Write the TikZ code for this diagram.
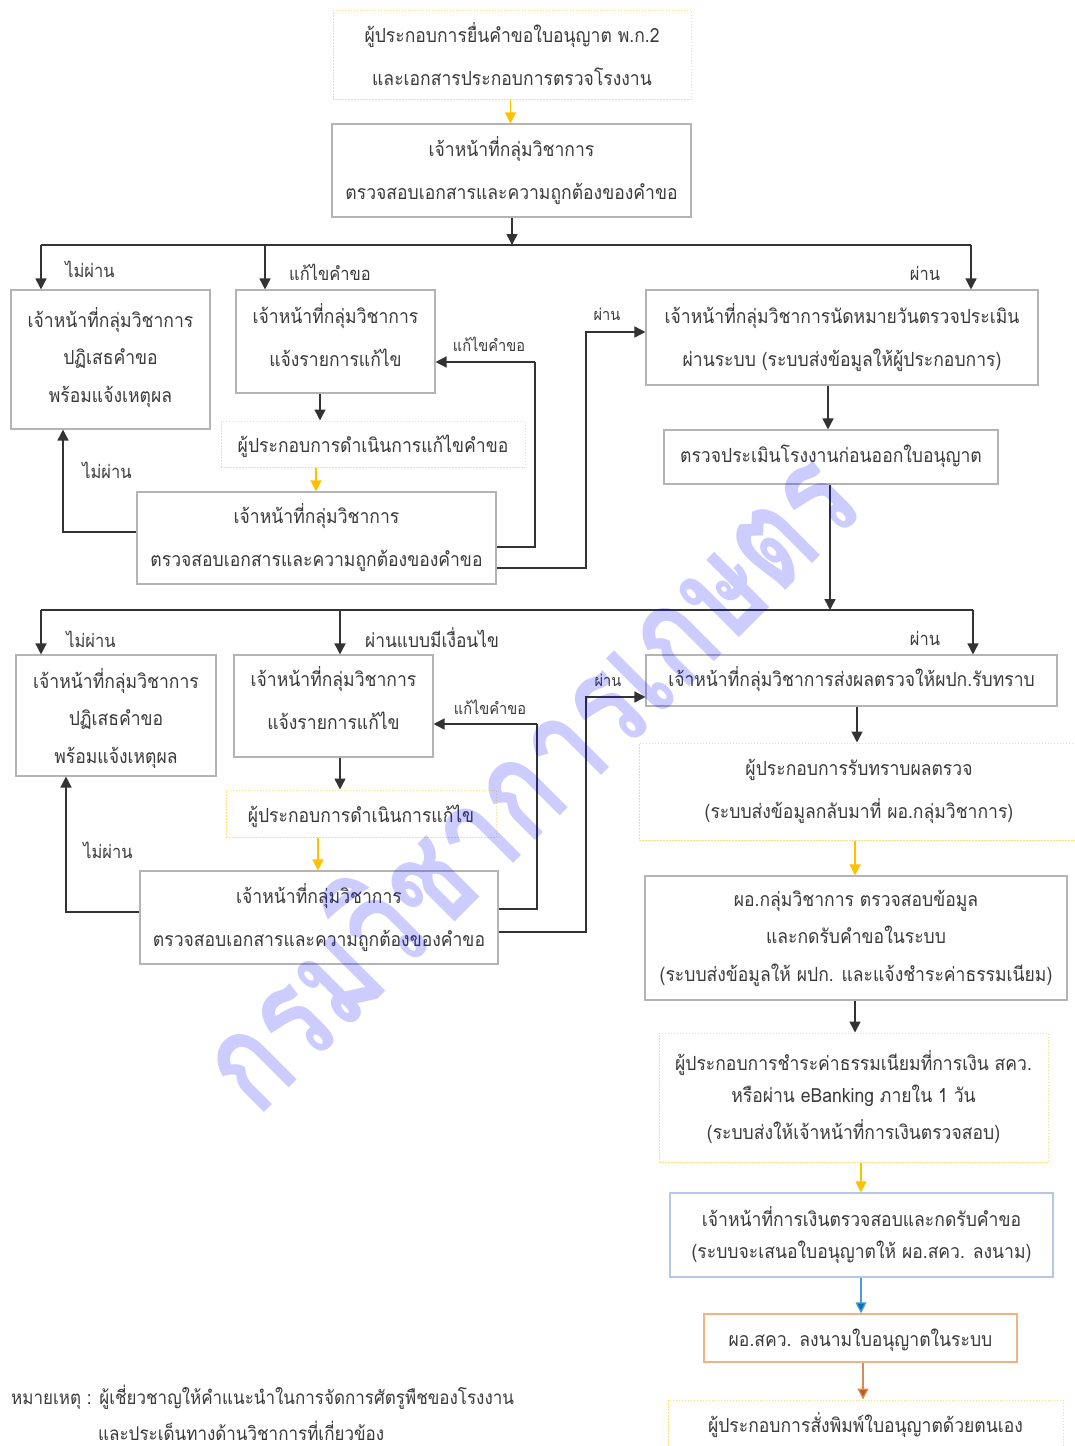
\documentclass[tikz,border=0pt]{standalone}
\usepackage{fontspec}
\usetikzlibrary{arrows.meta,calc}
\newfontfamily\thai[Script=Thai,FakeStretch=0.9]{Loma}
\newfontfamily\wmfont[Script=Thai]{Loma}
\definecolor{boxgray}{HTML}{B4B4B4}
\definecolor{dotyellow}{HTML}{FFDD77}
\definecolor{arrowyellow}{HTML}{FFC000}
\definecolor{boxblue}{HTML}{B4C7E7}
\definecolor{arrowblue}{HTML}{0070C0}
\definecolor{boxorange}{HTML}{F4B183}
\definecolor{arroworange}{HTML}{C55A11}
\definecolor{inkgray}{HTML}{3A3A3A}
\definecolor{linegray}{HTML}{333333}
\tikzset{
  x=1pt,y=-1pt,
  every node/.style={inner sep=0pt,text=inkgray,align=center},
  bt/.style={font={\thai\fontsize{19.5}{43}\selectfont}},
  bm/.style={font={\thai\fontsize{19.5}{37.5}\selectfont}},
  bs/.style={font={\thai\fontsize{19.5}{32}\selectfont}},
  box/.style={draw=boxgray,line width=1.1pt,bt},
  yel/.style={draw=dotyellow,line width=1pt,dash pattern=on 1.5pt off 1.5pt,bt},
  blu/.style={draw=boxblue,line width=1.3pt,bs},
  org/.style={draw=boxorange,line width=1.3pt,bt},
  lab/.style={font={\thai\fontsize{18.3}{22}\selectfont}},
  labw/.style={font={\thai\fontsize{19.3}{22}\selectfont}},
  labs/.style={font={\thai\fontsize{16.2}{20}\selectfont}},
  note/.style={font={\thai\fontsize{18.9}{22}\selectfont},anchor=west},
  flow/.style={draw=linegray,line width=1.5pt,-{Triangle[width=11pt,length=11pt]}},
  ln/.style={draw=linegray,line width=1.5pt},
  flowy/.style={draw=arrowyellow,line width=1.3pt,-{Triangle[width=11pt,length=11pt]}},
  flowb/.style={draw=arrowblue!70!white,line width=1.3pt,-{Triangle[width=11pt,length=11pt,fill=arrowblue]}},
  flowo/.style={draw=arroworange!70!white,line width=1.3pt,-{Triangle[width=11pt,length=11pt,fill=arroworange]}},
  wmark/.style={font={\wmfont\bfseries\fontsize{140}{150}\selectfont},text=blue,opacity=.2,text opacity=.2,rotate=45,xscale=.76}
}
\begin{document}
\begin{tikzpicture}
\useasboundingbox (0,0) rectangle (1075,1446);
\clip (0,0) rectangle (1075,1446);
% boxes
\node[yel,minimum width=358pt,minimum height=89pt] (n1) at (512,54.5) {ผู้ประกอบการยื่นคำขอใบอนุญาต พ.ก.2\\และเอกสารประกอบการตรวจโรงงาน};
\node[box,minimum width=359pt,minimum height=93pt] (n2) at (511.5,170.5) {เจ้าหน้าที่กลุ่มวิชาการ\\ตรวจสอบเอกสารและความถูกต้องของคำขอ};
\node[box,bm,text depth=10pt,minimum width=199pt,minimum height=139pt] (n3) at (110.5,359.5) {เจ้าหน้าที่กลุ่มวิชาการ\\ปฏิเสธคำขอ\\พร้อมแจ้งเหตุผล};
\node[box,text depth=14pt,minimum width=199pt,minimum height=103pt] (n4) at (335.5,341.5) {เจ้าหน้าที่กลุ่มวิชาการ\\แจ้งรายการแก้ไข};
\node[yel,text height=26pt,text depth=10pt,minimum width=304pt,minimum height=46pt] (n5) at (373,444) {ผู้ประกอบการดำเนินการแก้ไขคำขอ};
\node[box,minimum width=359pt,minimum height=92pt] (n6) at (316.5,538) {เจ้าหน้าที่กลุ่มวิชาการ\\ตรวจสอบเอกสารและความถูกต้องของคำขอ};
\node[box,minimum width=392pt,minimum height=95pt] (n7) at (842,337.5) {เจ้าหน้าที่กลุ่มวิชาการนัดหมายวันตรวจประเมิน\\ผ่านระบบ (ระบบส่งข้อมูลให้ผู้ประกอบการ)};
\node[box,text height=20pt,text depth=10pt,minimum width=334pt,minimum height=54pt] (n8) at (831,457) {ตรวจประเมินโรงงานก่อนออกใบอนุญาต};
\node[box,bm,text depth=-1pt,minimum width=200pt,minimum height=121pt] (n9) at (116,715.5) {เจ้าหน้าที่กลุ่มวิชาการ\\ปฏิเสธคำขอ\\พร้อมแจ้งเหตุผล};
\node[box,text depth=17pt,minimum width=199pt,minimum height=102pt] (n10) at (333.5,706) {เจ้าหน้าที่กลุ่มวิชาการ\\แจ้งรายการแก้ไข};
\node[yel,text height=27pt,text depth=10pt,minimum width=270pt,minimum height=47pt] (n11) at (361,813.5) {ผู้ประกอบการดำเนินการแก้ไข};
\node[box,minimum width=358pt,minimum height=93pt] (n12) at (319,917.5) {เจ้าหน้าที่กลุ่มวิชาการ\\ตรวจสอบเอกสารและความถูกต้องของคำขอ};
\node[box,text height=21pt,text depth=10pt,minimum width=411pt,minimum height=51pt] (n13) at (851.5,680.5) {เจ้าหน้าที่กลุ่มวิชาการส่งผลตรวจให้ผปก.รับทราบ};
\node[yel,minimum width=440pt,minimum height=97pt] (n14) at (859,791.5) {ผู้ประกอบการรับทราบผลตรวจ\\(ระบบส่งข้อมูลกลับมาที่ ผอ.กลุ่มวิชาการ)};
\node[box,bm,minimum width=422pt,minimum height=124pt] (n15) at (856,938) {ผอ.กลุ่มวิชาการ ตรวจสอบข้อมูล\\และกดรับคำขอในระบบ\\(ระบบส่งข้อมูลให้ ผปก. และแจ้งชำระค่าธรรมเนียม)};
\node[yel,bs,minimum width=389pt,minimum height=129pt] (n16) at (853.5,1097.5) {ผู้ประกอบการชำระค่าธรรมเนียมที่การเงิน สคว.\\หรือผ่าน eBanking ภายใน 1 วัน\\[5pt](ระบบส่งให้เจ้าหน้าที่การเงินตรวจสอบ)};
\node[blu,minimum width=383pt,minimum height=84pt] (n17) at (861.5,1235) {เจ้าหน้าที่การเงินตรวจสอบและกดรับคำขอ\\(ระบบจะเสนอใบอนุญาตให้ ผอ.สคว. ลงนาม)};
\node[org,text height=26pt,text depth=10pt,minimum width=313pt,minimum height=48pt] (n18) at (860.5,1338) {ผอ.สคว. ลงนามใบอนุญาตในระบบ};
\node[yel,text height=18pt,text depth=10pt,minimum width=395pt,minimum height=56pt] (n19) at (865.5,1428) {ผู้ประกอบการสั่งพิมพ์ใบอนุญาตด้วยตนเอง};
% labels
\node[lab] (l1) at (90,269) {ไม่ผ่าน};
\node[lab] (l2) at (330,272) {แก้ไขคำขอ};
\node[lab] (l3) at (925,273) {ผ่าน};
\node[labs] (l4) at (489,344) {แก้ไขคำขอ};
\node[labs] (l5) at (607,314) {ผ่าน};
\node[lab] (l6) at (107,470) {ไม่ผ่าน};
\node[lab] (l7) at (91,639) {ไม่ผ่าน};
\node[labw] (l8) at (432,638) {ผ่านแบบมีเงื่อนไข};
\node[lab] (l9) at (925,638) {ผ่าน};
\node[labs] (l10) at (490,707) {แก้ไขคำขอ};
\node[labs] (l11) at (608,680) {ผ่าน};
\node[lab] (l12) at (108,850) {ไม่ผ่าน};
\node[note] (t1) at (11,1397) {หมายเหตุ : ผู้เชี่ยวชาญให้คำแนะนำในการจัดการศัตรูพืชของโรงงาน};
\node[note] (t2) at (98,1431) {และประเด็นทางด้านวิชาการที่เกี่ยวข้อง};
% junction points
\coordinate (b1m) at (512,245);
\coordinate (b1l) at (41,245);
\coordinate (b1c) at (265,245);
\coordinate (b1r) at (971,245);
\coordinate (b2m) at (830,610);
\coordinate (b2l) at (41,610);
\coordinate (b2c) at (340,610);
\coordinate (b2r) at (973,610);
\coordinate (r1) at (63,532);
\coordinate (r2) at (535,547);
\coordinate (r2b) at (535,362);
\coordinate (r3) at (586,568);
\coordinate (r3b) at (586,332);
\coordinate (s1) at (66,912);
\coordinate (s2) at (537,909);
\coordinate (s2b) at (537,724);
\coordinate (s3) at (586,932);
\coordinate (s3b) at (586,697);
% connectors, upper part
\draw[flowy] (510.5,0 |- n1.south) -- (510.5,0 |- n2.north);
\draw[flow] (b1m |- n2.south) -- (b1m);
\draw[ln] (b1l) -- (b1r);
\draw[flow] (b1l) -- (b1l |- n3.north);
\draw[flow] (b1c) -- (b1c |- n4.north);
\draw[flow] (b1r) -- (b1r |- n7.north);
\draw[flow] (320,0 |- n4.south) -- (320,0 |- n5.north);
\draw[flowy] (316,0 |- n5.south) -- (316,0 |- n6.north);
\draw[flow] (n6.west |- r1) -- (r1) -- (r1 |- n3.south);
\draw[ln] (n6.east |- r2) -- (r2) -- (r2b);
\draw[flow] (r2b) -- (n4.east |- r2b);
\draw[flow] (n6.east |- r3) -- (r3) -- (r3b) -- (n7.west |- r3b);
\draw[flow] (828,0 |- n7.south) -- (828,0 |- n8.north);
\draw[flow] (b2m |- n8.south) -- (b2m);
% connectors, lower part
\draw[ln] (b2l) -- (b2r);
\draw[flow] (b2l) -- (b2l |- n9.north);
\draw[flow] (b2c) -- (b2c |- n10.north);
\draw[flow] (b2r) -- (b2r |- n13.north);
\draw[flow] (340,0 |- n10.south) -- (340,0 |- n11.north);
\draw[flowy] (318,0 |- n11.south) -- (318,0 |- n12.north);
\draw[flow] (n12.west |- s1) -- (s1) -- (s1 |- n9.south);
\draw[ln] (n12.east |- s2) -- (s2) -- (s2b);
\draw[flow] (s2b) -- (n10.east |- s2b);
\draw[flow] (n12.east |- s3) -- (s3) -- (s3b) -- (n13.west |- s3b);
\draw[flow] (857,0 |- n13.south) -- (857,0 |- n14.north);
\draw[flowy] (855,0 |- n14.south) -- (855,0 |- n15.north);
\draw[flow] (855,0 |- n15.south) -- (855,0 |- n16.north);
\draw[flowy] (861,0 |- n16.south) -- (861,0 |- n17.north);
\draw[flowb] (861,0 |- n17.south) -- (861,0 |- n18.north);
\draw[flowo] (863,0 |- n18.south) -- (863,0 |- n19.north);
% watermark
\node[wmark] (wm) at (522,774) {กรมวิชาการเกษตร};
\end{tikzpicture}
\end{document}
